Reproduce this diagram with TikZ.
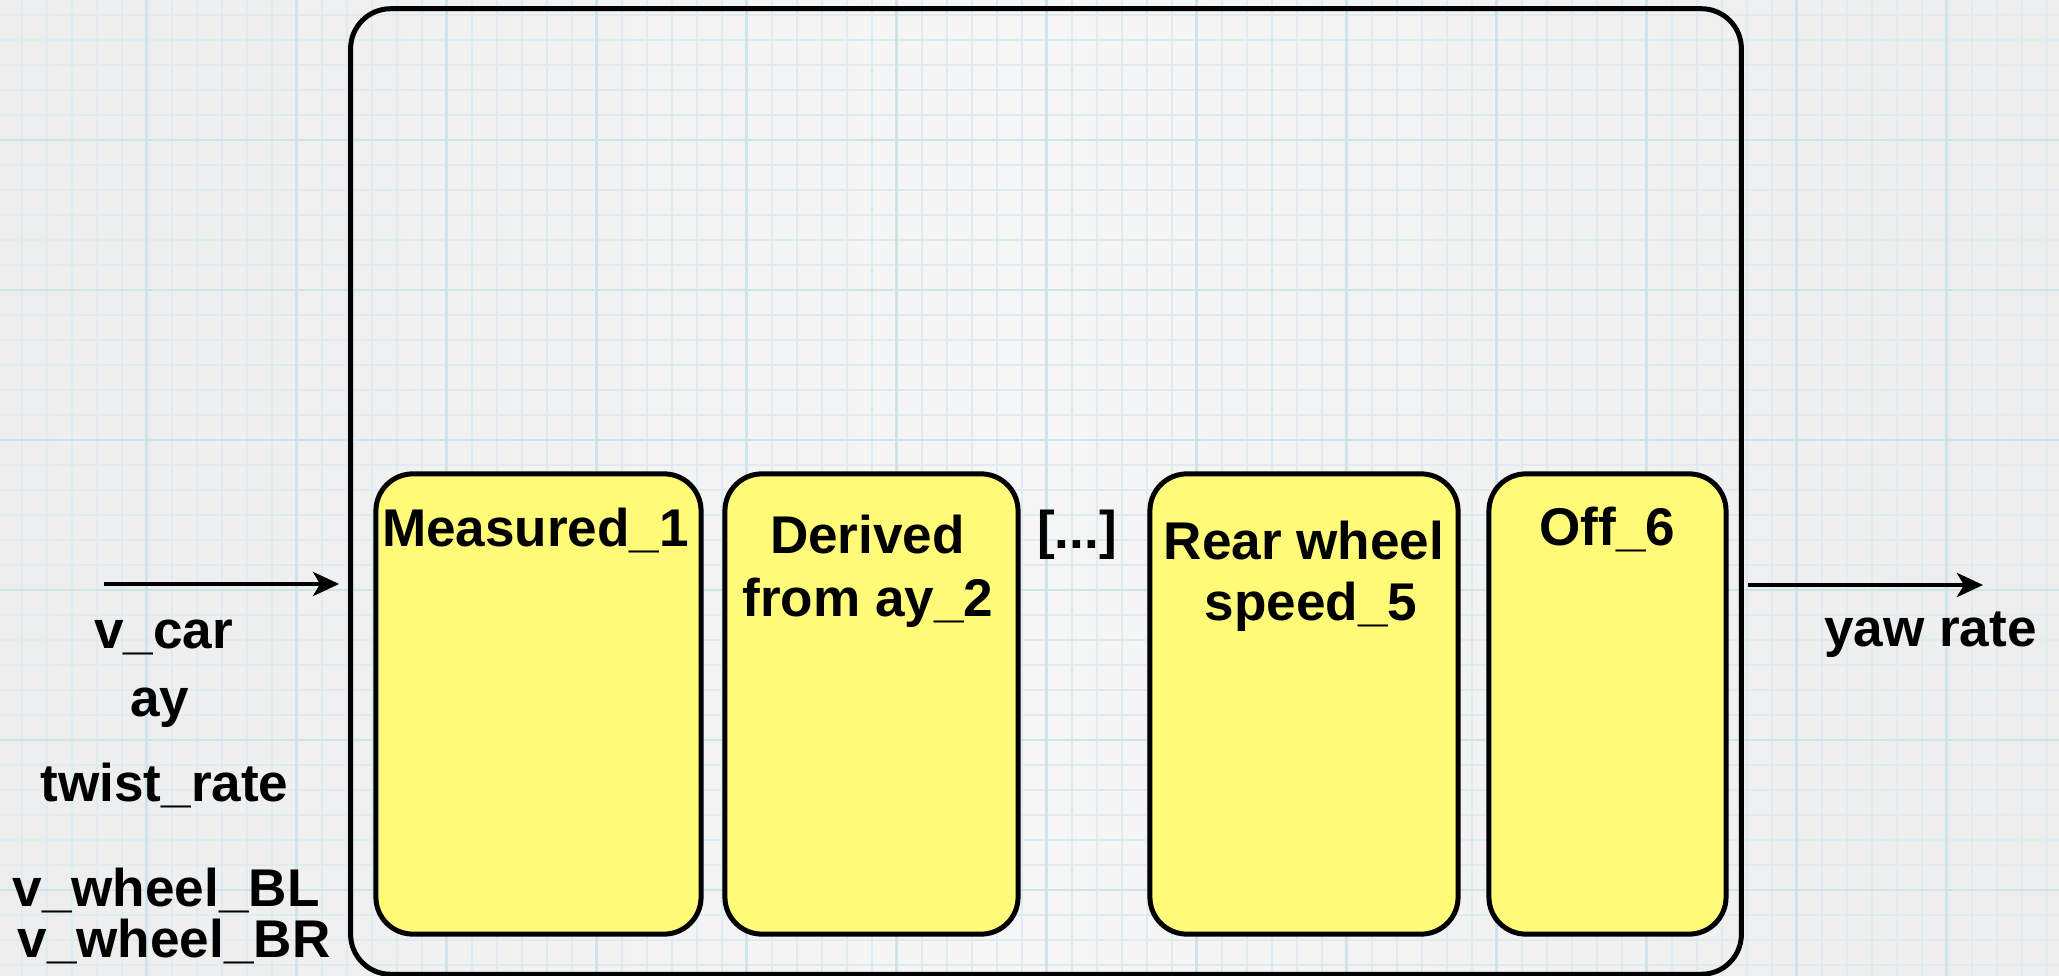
\documentclass[tikz,border=0pt]{standalone}
\usepackage{fontspec}
\setmainfont{Liberation Sans}
\usetikzlibrary{arrows.meta}
\definecolor{paperedge}{HTML}{EDEDED}
\definecolor{papermid}{HTML}{F6F6F6}
\definecolor{gridminor}{RGB}{222,235,240}
\definecolor{gridmajor}{RGB}{208,227,235}
\definecolor{stageyellow}{HTML}{FFFA78}
\begin{document}
\begin{tikzpicture}[x=0.01cm,y=-0.01cm,
  minorline/.style={gridminor,line width=0.018cm},
  majorline/.style={gridmajor,line width=0.028cm},
  frame/.style={draw,line width=0.05cm,rounded corners=0.40cm,
    minimum width=13.90cm,minimum height=9.65cm,inner sep=0},
  stage/.style={draw,line width=0.05cm,rounded corners=0.37cm,
    fill=stageyellow,minimum height=4.60cm,inner sep=0},
  lbl/.style={font=\bfseries\fontsize{15.1pt}{17pt}\selectfont,
    inner sep=0,anchor=base},
  sig/.style={line width=0.042cm,
    -{Stealth[length=0.26cm,width=0.24cm,inset=0.07cm]}}]

% graph-paper background
\useasboundingbox (0,0) rectangle (2059,976);
\shade[left color=paperedge,right color=paperedge,middle color=papermid]
  (0,0) rectangle (2059,976);
\foreach \i in {0,...,81} \draw[minorline] ({21.7+25*\i},0) -- ({21.7+25*\i},976);
\foreach \j in {0,...,38} \draw[minorline] (0,{15+25*\j}) -- (2059,{15+25*\j});
\foreach \i in {0,...,12} \draw[majorline] ({146.7+150*\i},0) -- ({146.7+150*\i},976);
\foreach \j in {0,...,5} \draw[majorline] (0,{140+150*\j}) -- (2059,{140+150*\j});

% system frame and its stages
\node[frame] (sys) at (1046,491.5) {};
\node[stage,minimum width=3.25cm] (s1) at (538.5,704) {};
\node[stage,minimum width=2.93cm] (s2) at (871.5,704) {};
\node[stage,minimum width=3.08cm] (s5) at (1304,704) {};
\node[stage,minimum width=2.37cm] (s6) at (1607.5,704) {};

% stage titles
\node[lbl] (t1) at (535.5,546.7) {Measured\_1};
\node[lbl] (t2a) at (867.5,554) {Derived};
\node[lbl] (t2b) at (868,616.7) {from ay\_2};
\node[lbl] (dots) at (1077,548.3) {[...]};
\node[lbl] (t5a) at (1304,560) {Rear wheel};
\node[lbl] (t5b) at (1311,620) {speed\_5};
\node[lbl] (t6) at (1607.5,545.7) {Off\_6};

% inputs
\coordinate (inL) at (104,584);
\draw[sig,shorten >=0.09cm] (inL) -- (inL -| sys.west);
\node[lbl] (vcar) at (163.5,648.3) {v\_car};
\node[lbl] (ay) at (160,716.7) {ay};
\node[lbl] (twist) at (164.5,801.7) {twist\_rate};
\node[lbl] (vbl) at (166,906.5) {v\_wheel\_BL};
\node[lbl] (vbr) at (174,957.5) {v\_wheel\_BR};

% output
\coordinate (outR) at (1983,585);
\draw[sig,shorten <=0.04cm] (outR -| sys.east) -- (outR);
\node[lbl] (yaw) at (1930.5,646.7) {yaw rate};
\end{tikzpicture}
\end{document}
